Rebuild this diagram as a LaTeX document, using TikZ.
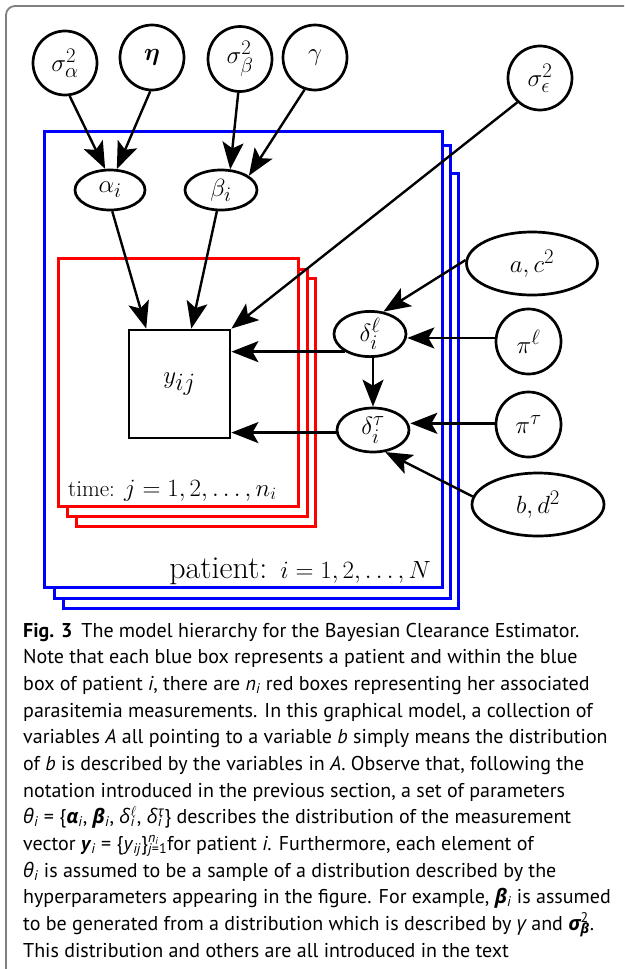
\documentclass[tikz,border=0pt]{standalone}
\usepackage{fontspec}
\usepackage{amsmath}
\usepackage{bm}
\usetikzlibrary{shapes.geometric,arrows.meta,calc}
\newfontfamily\capfont{PT Sans}
\newfontfamily\gkfont{Open Sans}
\newcommand\gk[1]{{\gkfont\itshape #1}}
% stacked superscript/subscript for caption text
\newcommand\supsubx[2]{\setbox0=\hbox{\textsuperscript{#1}}\setbox2=\hbox{\textsubscript{#2}}%
  \ifdim\wd0>\wd2 \rlap{\box2}\box0\else\rlap{\box0}\box2\fi}
\definecolor{pblue}{RGB}{0,0,255}
\definecolor{pred}{RGB}{255,0,0}
\begin{document}
\begin{tikzpicture}[x=1pt,y=-1pt,
  var/.style={ellipse, draw, line width=2.7pt, inner sep=0pt, fill=white,
    font=\fontsize{31}{34}\selectfont},
  edge/.style={line width=2.4pt, -{Stealth[length=27pt,width=21pt,inset=6pt]}},
  plate/.style={line width=3pt, fill=white},
  capline/.style={anchor=base west, inner sep=0pt, font=\capfont\fontsize{20}{24}\selectfont}]
\useasboundingbox (0,0) rectangle (624,969);
\fill[white] (0,0) rectangle (624,969);
% outer frame
\draw[black!50, line width=1.8pt, rounded corners=9pt] (6,969) -- (6,6) -- (624,6);

% patient plates
\draw[plate, draw=pblue] (63,173) rectangle (458,608);
\draw[plate, draw=pblue] (54,145) rectangle (450,598);
\draw[plate, draw=pblue] (44,131) rectangle (442,587);
% time plates
\draw[plate, draw=pred] (76,278) rectangle (315,526);
\draw[plate, draw=pred] (67,269) rectangle (307,516);
\draw[plate, draw=pred] (58,258) rectangle (298,506);

\node[anchor=base west, inner sep=0pt, font=\fontsize{23}{25}\selectfont] (tlab) at (68,496)
  {time: $j = 1, 2, \ldots, n_i$};
\node[anchor=base east, inner sep=0pt, font=\fontsize{32}{34}\selectfont] (plab) at (431,578)
  {patient: $i = 1, 2, \ldots, N$};

% observed variable
\node[draw, line width=2.8pt, minimum width=101pt, minimum height=108pt, inner sep=0pt,
  fill=white, font=\fontsize{58}{62}\selectfont] (y) at (179.5,384) {$y_{ij}$};

% hyperparameters
\node[var, minimum width=64pt, minimum height=64pt] (sa) at (65,63) {$\sigma^2_\alpha$};
\node[var, minimum width=64pt, minimum height=65pt] (eta) at (152,57.5) {$\boldsymbol{\eta}$};
\node[var, minimum width=64pt, minimum height=65pt] (sb) at (240,59) {$\sigma^2_\beta$};
\node[var, minimum width=64pt, minimum height=65pt] (gam) at (315,57.5) {$\gamma$};
\node[var, minimum width=64pt, minimum height=64pt] (se) at (540,78) {$\sigma^2_\epsilon$};
\node[var, minimum width=131pt, minimum height=63pt] (ac) at (532,263.5) {$a, c^2$};
\node[var, minimum width=65pt, minimum height=65pt] (pl) at (528.5,341.5) {$\pi^\ell$};
\node[var, minimum width=65pt, minimum height=65pt] (pt) at (528.5,424.5) {$\pi^\tau$};
\node[var, minimum width=132pt, minimum height=63pt] (bd) at (538,504.5) {$b, d^2$};

% patient-level parameters
\node[var, minimum width=70pt, minimum height=40pt] (ai) at (110,190) {$\alpha_i$};
\node[var, minimum width=72pt, minimum height=40pt] (bi) at (221,190) {$\beta_i$};
\node[var, minimum width=72pt, minimum height=42pt] (dl) at (370,334) {$\delta_i^\ell$};
\node[var, minimum width=72pt, minimum height=44pt] (dt) at (373,430) {$\delta_i^\tau$};

% dependencies
\draw[edge] (sa.-82) -- (ai.103);
\draw[edge] (eta.-93) -- (ai.72);
\draw[edge] (sb.-93) -- (bi.66);
\draw[edge] (gam.-108) -- (bi.27);
\draw[edge] (ai.-84) -- (y.121);
\draw[edge] (bi.-101) -- (y.78);
\draw[edge] (se.-133) -- (y.north east);
\draw[edge] (ac.177) -- (dl.59);
\draw[edge] (pl.174) -- (pl.174 -| dl.east);
\draw[edge] (pt.178) -- (pt.178 -| dt.east);
\draw[edge] (bd.173) -- (dt.-61);
\draw[edge] (dt.north |- dl.south) -- (dt.north);
\draw[edge] (dl.-145) -- (dl.-145 -| y.east);
\draw[edge] (dt.-176) -- (dt.-176 -| y.east);

% caption
\node[capline] (cap1) at (23,637) {\textbf{Fig. 3}\hspace{0.45em}The model hierarchy for the Bayesian Clearance Estimator.};
\node[capline] (cap2) at (23,663.7) {Note that each blue box represents a patient and within the blue};
\node[capline] (cap3) at (23,690.3) {box of patient \textit{i}, there are \textit{n}\textsubscript{\textit{i}} red boxes representing her associated};
\node[capline] (cap4) at (23,717) {parasitemia measurements. In this graphical model, a collection of};
\node[capline] (cap5) at (23,743.7) {variables \textit{A} all pointing to a variable \textit{b} simply means the distribution};
\node[capline] (cap6) at (23,770.3) {of \textit{b} is described by the variables in \textit{A}. Observe that, following the};
\node[capline] (cap7) at (23,797) {notation introduced in the previous section, a set of parameters};
\node[capline] (cap8) at (23,823.7) {\gk{θ}\textsubscript{\textit{i}} = \{\gk{\bfseries α}\textsubscript{\textit{i}}, \gk{\bfseries β}\textsubscript{\textit{i}}, \gk{δ}\supsubx{$\ell$}{\textit{i}}, \gk{δ}\supsubx{\gk{τ}}{\textit{i}}\} describes the distribution of the measurement};
\node[capline] (cap9) at (23,850.3) {vector \textbf{\textit{y}}\textsubscript{\textit{i}} = \{\textit{y}\textsubscript{\textit{ij}}\}\supsubx{\textit{n}\textsubscript{\textit{i}}}{\textit{j}=1}for patient \textit{i}. Furthermore, each element of};
\node[capline] (cap10) at (23,877) {\gk{θ}\textsubscript{\textit{i}} is assumed to be a sample of a distribution described by the};
\node[capline] (cap11) at (23,903.7) {hyperparameters appearing in the figure. For example, \gk{\bfseries β}\textsubscript{\textit{i}} is assumed};
\node[capline] (cap12) at (23,930.3) {to be generated from a distribution which is described by \gk{γ} and \gk{\bfseries σ}\supsubx{2}{\gk{\bfseries β}}.};
\node[capline] (cap13) at (23,957) {This distribution and others are all introduced in the text};
\end{tikzpicture}
\end{document}
